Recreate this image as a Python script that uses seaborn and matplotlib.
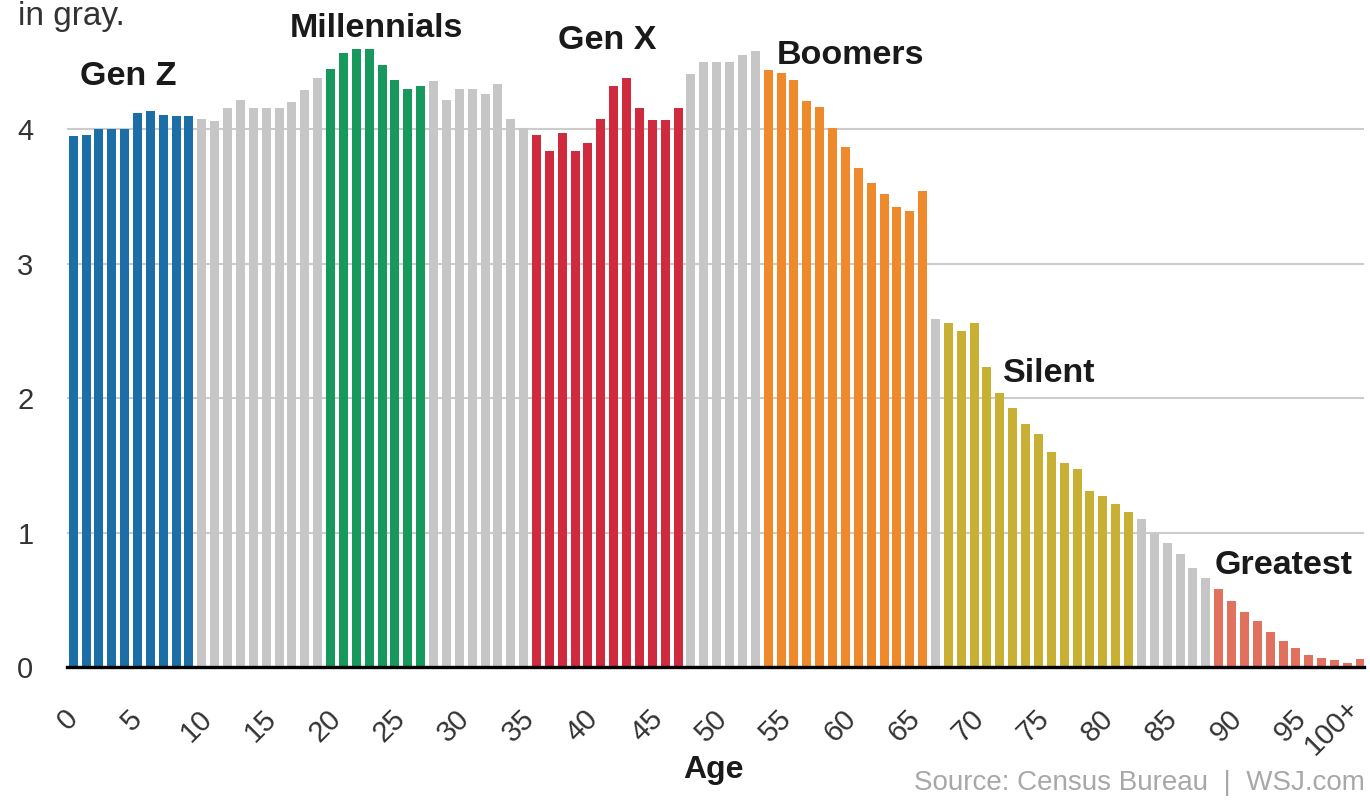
import matplotlib
matplotlib.use("Agg")
import matplotlib.pyplot as plt
import seaborn as sns
import pandas as pd

# U.S. population by single year of age, millions
gen_z = [3.95, 3.96, 4.00, 4.00, 4.00, 4.12, 4.14, 4.11, 4.10, 4.10]            # ages 0-9
between_a = [4.08, 4.06, 4.16, 4.22, 4.16, 4.16, 4.16, 4.20, 4.29, 4.38]        # ages 10-19
millennials = [4.45, 4.57, 4.60, 4.60, 4.48, 4.37, 4.30, 4.32]                  # ages 20-27
between_b = [4.36, 4.22, 4.30, 4.30, 4.26, 4.34, 4.08, 4.01]                    # ages 28-35
gen_x = [3.96, 3.84, 3.97, 3.84, 3.90, 4.08, 4.32, 4.38, 4.16, 4.07, 4.07, 4.16]  # ages 36-47
between_c = [4.41, 4.50, 4.50, 4.50, 4.55, 4.58]                                # ages 48-53
boomers = [4.44, 4.42, 4.37, 4.21, 4.17, 4.01, 3.87, 3.71, 3.60, 3.52, 3.42, 3.39, 3.54]  # ages 54-66
between_d = [2.59]                                                              # age 67
silent = [2.56, 2.50, 2.56, 2.23, 2.04, 1.93, 1.81, 1.73, 1.60, 1.52, 1.47, 1.31, 1.27, 1.21, 1.15]  # ages 68-82
between_e = [1.10, 0.99, 0.92, 0.84, 0.74, 0.66]                                # ages 83-88
greatest = [0.58, 0.49, 0.41, 0.34, 0.26, 0.19, 0.14, 0.09, 0.07, 0.05, 0.03, 0.06]  # ages 89-100+

segments = [
    ("Gen Z", gen_z), ("Between", between_a), ("Millennials", millennials),
    ("Between", between_b), ("Gen X", gen_x), ("Between", between_c),
    ("Boomers", boomers), ("Between", between_d), ("Silent", silent),
    ("Between", between_e), ("Greatest", greatest),
]

generation_colors = {
    "Gen Z": "#1b6fa6",
    "Millennials": "#17985c",
    "Gen X": "#cf2a3d",
    "Boomers": "#ee8a2b",
    "Silent": "#c8b035",
    "Greatest": "#e1705f",
    "Between": "#c6c6c6",
}

age_tick_values = list(range(0, 101, 5))
age_tick_labels = [str(a) for a in age_tick_values[:-1]] + ["100+"]

# label anchor (age, millions) for each named generation
generation_labels = {
    "Gen Z": (0.5, 4.33),
    "Millennials": (16.85, 4.69),
    "Gen X": (37.7, 4.60),
    "Boomers": (54.7, 4.49),
    "Silent": (72.25, 2.12),
    "Greatest": (88.7, 0.69),
}

rows = []
age = 0
for gen, values in segments:
    for v in values:
        rows.append({"age": age, "pop": v, "gen": gen})
        age += 1
df = pd.DataFrame(rows)
df["age_label"] = df["age"].astype(str)

sns.set_theme(style="white")
plt.rcParams["font.family"] = ["Liberation Sans", "DejaVu Sans"]

fig = plt.figure(figsize=(13.7, 8.01), dpi=100)
ax = fig.add_axes([0.0487, 0.1673, 0.947, 0.8306])

sns.barplot(
    data=df, x="age_label", y="pop", hue="gen", order=df["age_label"].tolist(),
    palette=generation_colors, dodge=False, width=0.7, saturation=1,
    legend=False, ax=ax, linewidth=0,
)

ax.set_xlim(-0.5, 100.3)
ax.set_ylim(0, 4.95)

ax.set_axisbelow(True)
ax.set_yticks([0, 1, 2, 3, 4])
ax.set_yticklabels(["0", "1", "2", "3", "4"])
ax.yaxis.grid(True, color="#cccccc", linewidth=1.5)
ax.xaxis.grid(False)

ax.set_xticks([a - 0.42 for a in age_tick_values])
ax.set_xticklabels(age_tick_labels, rotation=45, ha="center")
# the final label hangs from its tick so it stays inside the figure
last = ax.get_xticklabels()[-1]
last.set_rotation_mode("anchor")
last.set_ha("right")
last.set_va("center")

ax.tick_params(axis="y", length=0, pad=24, labelsize=21, labelcolor="#333333")
ax.tick_params(axis="x", length=7, width=1.8, color="black", direction="out",
               pad=20, labelsize=21, labelcolor="#333333")

for side in ["left", "right", "top"]:
    ax.spines[side].set_visible(False)
ax.spines["bottom"].set_color("black")
ax.spines["bottom"].set_linewidth(2.4)

ax.set_xlabel("")
ax.set_ylabel("")

for name, (x, y) in generation_labels.items():
    ax.text(x, y, name, ha="left", va="baseline", fontsize=24.5,
            fontweight="bold", color="#1a1a1a", clip_on=False)

fig.text(713 / 1370, 1 - 770 / 801, "Age", ha="center", va="center",
         fontsize=23, fontweight="bold", color="#1a1a1a")
fig.text(1365 / 1370, 1 - 783 / 801, "Source: Census Bureau  |  WSJ.com",
         ha="right", va="center", fontsize=20, color="#a8a8a8")
fig.text(18 / 1370, 1 - 25 / 801, "in gray.", ha="left", va="baseline",
         fontsize=24, color="#333333")

fig.savefig("out.png", dpi=100)
